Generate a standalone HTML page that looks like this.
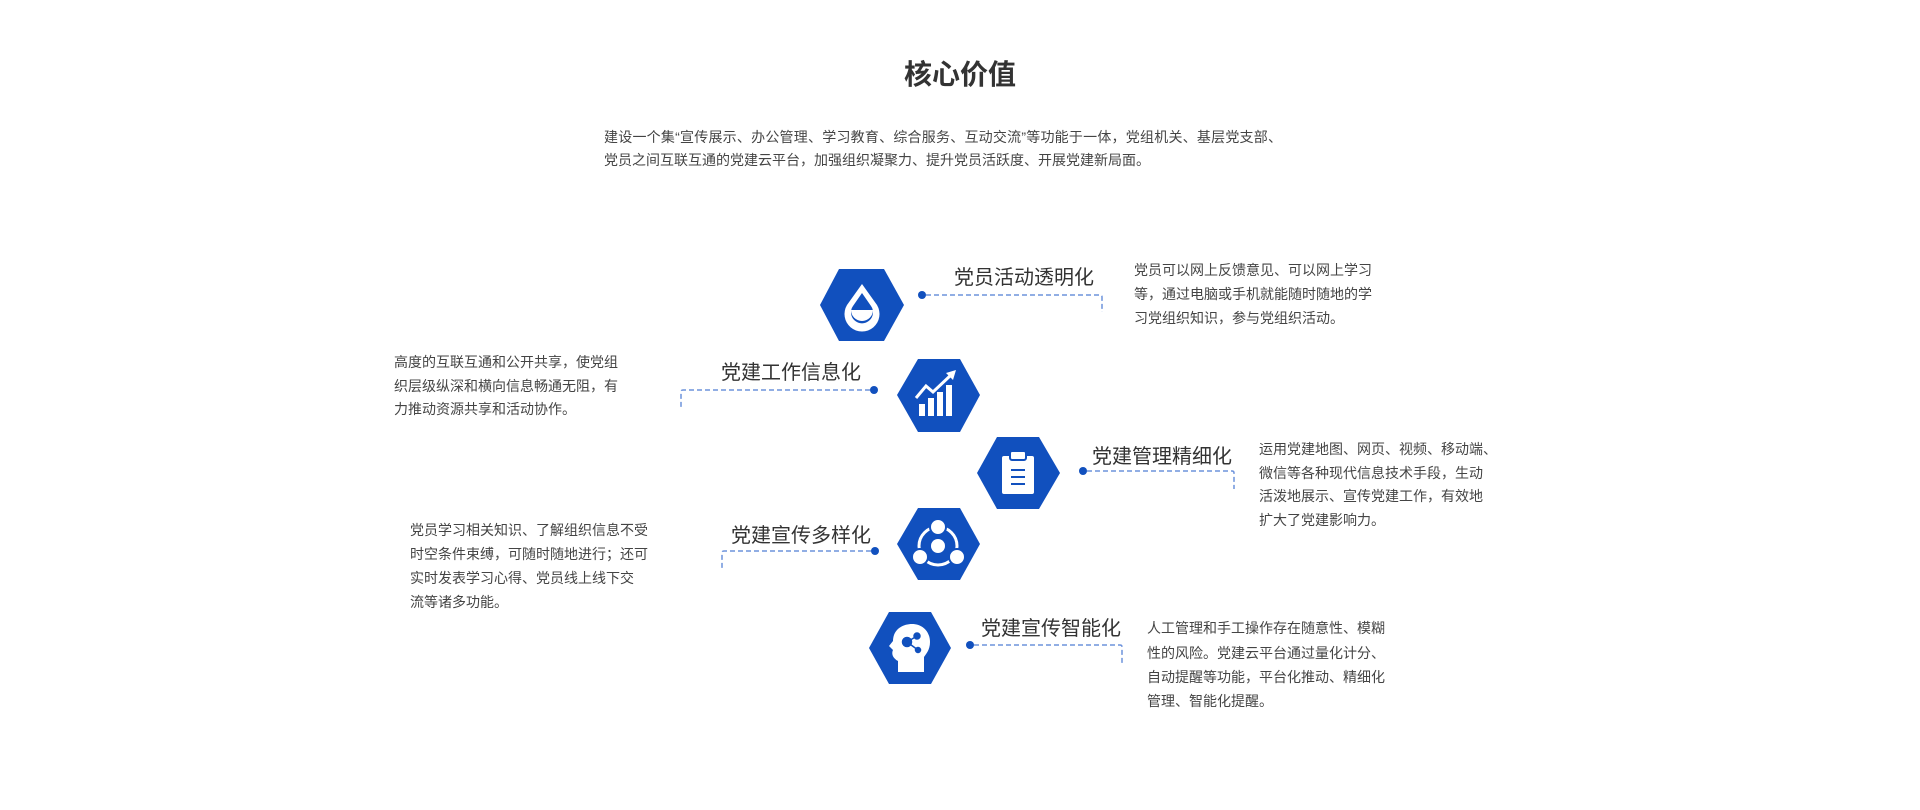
<!DOCTYPE html>
<html><head><meta charset="utf-8"><style>
html,body{margin:0;padding:0;background:#fff;width:1920px;height:810px;overflow:hidden}
svg{display:block}
text{font-family:"Liberation Sans","Noto Sans CJK SC",sans-serif}
.t{font-size:14px;fill:#444}
.l{font-size:20px;fill:#333}
.d{fill:none;stroke:#6d93dc;stroke-width:1.5;stroke-dasharray:5,3}
</style></head><body>
<svg width="1920" height="810" viewBox="0 0 1920 810">
<text x="960" y="84" text-anchor="middle" font-size="28" font-weight="bold" fill="#333">核心价值</text>
<text class="t" x="604" y="142" textLength="678" lengthAdjust="spacing">建设一个集“宣传展示、办公管理、学习教育、综合服务、互动交流”等功能于一体，党组机关、基层党支部、</text>
<text class="t" x="604" y="165">党员之间互联互通的党建云平台，加强组织凝聚力、提升党员活跃度、开展党建新局面。</text>

<g fill="#1150be">
<polygon points="839,269 884,269 904,305 884,341 839,341 820,305"/>
<polygon points="918,359 960,359 980,395 960,432 918,432 897,395"/>
<polygon points="997,437 1039,437 1060,473 1039,509 997,509 977,473"/>
<polygon points="918,508 960,508 980,544 960,580 918,580 897,544"/>
<polygon points="889,612 931,612 951,648 931,684 889,684 869,648"/>
</g>

<path d="M862,284 L877,305 A17.5,17.5 0 1 1 847,305 Z" fill="#fff"/>
<path d="M862,293 L871,306 A11,11 0 1 1 853,306 Z" fill="#1150be"/>
<path d="M851,310 A11,11 0 0 0 873,310 Z" fill="#fff"/>
<g fill="#fff">
<rect x="919" y="404" width="6" height="12"/>
<rect x="928" y="398" width="6" height="18"/>
<rect x="937" y="392" width="6" height="24"/>
<rect x="946" y="385" width="6" height="31"/>
</g>
<polyline points="916,398 926,386 933,392 951,375" fill="none" stroke="#fff" stroke-width="3"/>
<polygon points="956,370 946,373 953,380" fill="#fff"/>
<rect x="1002" y="456" width="32" height="38" rx="2" fill="#fff"/>
<rect x="1010" y="451" width="16" height="9" rx="2" fill="#fff" stroke="#1150be" stroke-width="2"/>
<g stroke="#1150be" stroke-width="2"><line x1="1011" y1="470" x2="1025" y2="470"/><line x1="1011" y1="477" x2="1025" y2="477"/><line x1="1011" y1="484" x2="1025" y2="484"/></g>
<circle cx="938" cy="546" r="19" fill="none" stroke="#fff" stroke-width="3"/>
<circle cx="938" cy="546" r="7" fill="#fff"/>
<g fill="#fff" stroke="#1150be" stroke-width="2">
<circle cx="938" cy="527" r="8"/><circle cx="920" cy="557" r="8"/><circle cx="957" cy="557" r="8"/></g>
<path d="M898,672 L898,661 C891,657 892,652 893,650 L889,646 L893,641 C893,630 902,624 912,624 C923,624 930,632 930,642 C930,650 926,654 924,657 L924,672 Z" fill="#fff"/>
<g fill="#1150be" stroke="#1150be" stroke-width="1.5">
<circle cx="907" cy="642" r="4.5"/><circle cx="917" cy="636" r="3"/><circle cx="918" cy="650" r="2.5"/>
<line x1="907" y1="642" x2="917" y2="636"/><line x1="907" y1="642" x2="918" y2="650"/></g>

<g fill="#1150be">
<circle cx="922" cy="295" r="4"/><circle cx="874" cy="390" r="4"/><circle cx="1083" cy="471" r="4"/><circle cx="875" cy="551" r="4"/><circle cx="970" cy="645" r="4"/></g>
<path class="d" d="M926,295 L1100,295 Q1102,295 1102,297 L1102,312"/>
<path class="d" d="M870,390 L683,390 Q681,390 681,392 L681,407"/>
<path class="d" d="M1087,471 L1232,471 Q1234,471 1234,473 L1234,489"/>
<path class="d" d="M871,551 L724,551 Q722,551 722,553 L722,569"/>
<path class="d" d="M974,645 L1120,645 Q1122,645 1122,647 L1122,663"/>

<text class="l" x="954" y="284">党员活动透明化</text>
<text class="l" x="721" y="379">党建工作信息化</text>
<text class="l" x="1092" y="463">党建管理精细化</text>
<text class="l" x="731" y="542">党建宣传多样化</text>
<text class="l" x="981" y="635">党建宣传智能化</text>

<g class="t">
<text x="1134" y="275">党员可以网上反馈意见、可以网上学习</text>
<text x="1134" y="299">等，通过电脑或手机就能随时随地的学</text>
<text x="1134" y="323">习党组织知识，参与党组织活动。</text>

<text x="394" y="367">高度的互联互通和公开共享，使党组</text>
<text x="394" y="391">织层级纵深和横向信息畅通无阻，有</text>
<text x="394" y="414">力推动资源共享和活动协作。</text>

<text x="1259" y="454">运用党建地图、网页、视频、移动端、</text>
<text x="1259" y="478">微信等各种现代信息技术手段，生动</text>
<text x="1259" y="501">活泼地展示、宣传党建工作，有效地</text>
<text x="1259" y="525">扩大了党建影响力。</text>

<text x="410" y="535">党员学习相关知识、了解组织信息不受</text>
<text x="410" y="559">时空条件束缚，可随时随地进行；还可</text>
<text x="410" y="583">实时发表学习心得、党员线上线下交</text>
<text x="410" y="607">流等诸多功能。</text>

<text x="1147" y="633">人工管理和手工操作存在随意性、模糊</text>
<text x="1147" y="658">性的风险。党建云平台通过量化计分、</text>
<text x="1147" y="682">自动提醒等功能，平台化推动、精细化</text>
<text x="1147" y="706">管理、智能化提醒。</text>
</g>
</svg>
</body></html>
